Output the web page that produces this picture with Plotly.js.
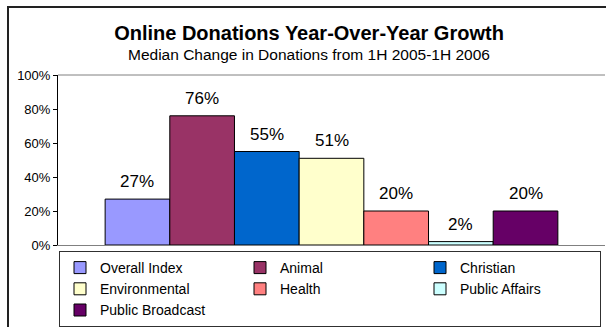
<!DOCTYPE html>
<html>
<head>
<meta charset="utf-8">
<script src="https://cdn.plot.ly/plotly-3.0.1.min.js"></script>
<style>html,body{margin:0;padding:0;background:#fff;}#chart{width:606px;height:327px;}</style>
</head>
<body>
<div id="chart"></div>
<script>
const categories = ["Overall Index", "Animal", "Christian", "Environmental", "Health", "Public Affairs", "Public Broadcast"];
const values = [0.27, 0.76, 0.55, 0.51, 0.20, 0.02, 0.20];
const colors = ["#9999FF", "#993366", "#0066CC", "#FFFFCC", "#FF8080", "#CCFFFF", "#660066"];
const yTicks = [0, 0.2, 0.4, 0.6, 0.8, 1.0];
const titleText = "Online Donations Year-Over-Year Growth";
const subtitleText = "Median Change in Donations from 1H 2005-1H 2006";

const FONT = "Arial, Liberation Sans, sans-serif";

const traces = categories.map((c, i) => ({
  type: "bar",
  name: c,
  x: [c],
  y: [values[i]],
  width: [1],
  marker: {color: colors[i], line: {color: "#000000", width: 1}},
  hoverinfo: "skip"
}));

const PL = 58, PR = 605, PT = 75, PB = 245;
const pw = PR - PL, ph = PB - PT;

const annotations = categories.map((c, i) => ({
  x: c, y: values[i], xref: "x", yref: "y",
  text: Math.round(values[i] * 100) + "%",
  showarrow: false, yanchor: "bottom", yshift: 6,
  font: {family: FONT, size: 17, color: "#000"}
}));
annotations.push({
  xref: "paper", yref: "paper", x: (309 - PL) / pw, y: 1 + (PT - 54) / ph,
  xanchor: "center", yanchor: "middle", showarrow: false,
  text: subtitleText, font: {family: FONT, size: 15.5, color: "#000"}
});

const layout = {
  width: 606, height: 327,
  margin: {l: PL, r: 606 - PR, t: PT, b: 327 - PB, pad: 0, autoexpand: false},
  paper_bgcolor: "#ffffff", plot_bgcolor: "#ffffff",
  font: {family: FONT, color: "#000"},
  barmode: "overlay", bargap: 0,
  showlegend: true,
  title: {
    text: "<b>" + titleText + "</b>",
    font: {family: FONT, size: 20, color: "#000"},
    xref: "container", x: 309 / 606, xanchor: "center",
    yref: "container", y: 1 - 33 / 327, yanchor: "middle"
  },
  xaxis: {
    type: "category", categoryarray: categories,
    range: [-0.5 - (47 / 64.5), categories.length - 0.5 + (47 / 64.5)],
    showticklabels: false, ticks: "", showgrid: false, zeroline: false,
    showline: true, linecolor: "#808080", linewidth: 1
  },
  yaxis: {
    range: [0, 1], tickvals: yTicks, tickformat: ".0%",
    showgrid: false, zeroline: false,
    showline: true, linecolor: "#000", linewidth: 1,
    ticks: "outside", ticklen: 4, tickcolor: "#000",
    tickfont: {family: FONT, size: 13, color: "#000"}
  },
  legend: {
    orientation: "h", x: (59 - PL) / pw, xanchor: "left",
    y: -(251 - PB) / ph, yanchor: "top",
    bordercolor: "#303030", borderwidth: 1, bgcolor: "#fff",
    font: {family: FONT, size: 14, color: "#000"},
    entrywidth: 135, entrywidthmode: "pixels", traceorder: "normal"
  },
  annotations: annotations,
  shapes: [
    {type: "line", xref: "paper", yref: "paper", x0: 0, x1: 1, y0: 1, y1: 1, line: {color: "#808080", width: 1}},
    {type: "rect", xref: "paper", yref: "paper", x0: (8 - PL) / pw, x1: 1.2, y0: -1, y1: 1 + (PT - 7) / ph, line: {color: "#222", width: 2}, layer: "below"}
  ]
};

Plotly.newPlot("chart", traces, layout, {staticPlot: true, displayModeBar: false});
</script>
</body>
</html>
